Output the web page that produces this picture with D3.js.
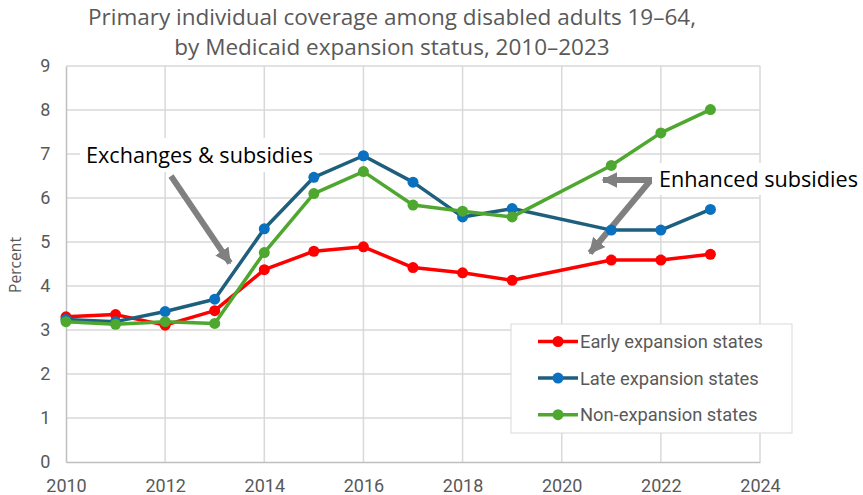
<!DOCTYPE html>
<html>
<head>
<meta charset="utf-8">
<script src="https://cdn.jsdelivr.net/npm/d3@7/dist/d3.min.js"></script>
<style>
  html, body { margin: 0; padding: 0; background: #fff; }
  svg { display: block; }
</style>
</head>
<body>
<svg id="chart" width="863" height="495"></svg>
<script>
// Survey years (no 2020 estimate)
const years = [2010, 2011, 2012, 2013, 2014, 2015, 2016, 2017, 2018, 2019, 2021, 2022, 2023];
const earlyExpansion = [3.30, 3.35, 3.11, 3.44, 4.37, 4.79, 4.89, 4.42, 4.30, 4.13, 4.59, 4.59, 4.72];
const lateExpansion  = [3.24, 3.19, 3.42, 3.70, 5.30, 6.47, 6.96, 6.36, 5.57, 5.76, 5.27, 5.27, 5.74];
const nonExpansion   = [3.19, 3.13, 3.19, 3.15, 4.76, 6.10, 6.60, 5.84, 5.70, 5.57, 6.74, 7.48, 8.01];
const seriesNames = ["Early expansion states", "Late expansion states", "Non-expansion states"];
const xTicks = [2010, 2012, 2014, 2016, 2018, 2020, 2022, 2024];
const yTicks = [0, 1, 2, 3, 4, 5, 6, 7, 8, 9];
const titleLines = ["Primary individual coverage among disabled adults 19\u201364,",
                    "by Medicaid expansion status, 2010\u20132023"];

const series = [
  { name: seriesNames[0], values: earlyExpansion, line: "#FF0000", marker: "#FF0000" },
  { name: seriesNames[1], values: lateExpansion,  line: "#1F5F7E", marker: "#0A70C0" },
  { name: seriesNames[2], values: nonExpansion,   line: "#4EA72E", marker: "#4EA72E" }
];

const svg = d3.select("#chart");
const x = d3.scaleLinear().domain([2010, 2024]).range([66, 760]);
const y = d3.scaleLinear().domain([0, 9]).range([462, 66]);

const grey = "#595959";
const bodyFont = "'Open Sans', 'Noto Sans', sans-serif";
const tickFont = "Roboto, 'Liberation Sans', sans-serif";

// scale a text element's font size so it spans the given width
function fitWidth(sel, width) {
  const node = sel.node();
  const fs = parseFloat(sel.attr("font-size"));
  const w = node.getComputedTextLength();
  if (w > 0) sel.attr("font-size", (fs * width / w).toFixed(2));
  return sel;
}

// gridlines
const grid = svg.append("g");
grid.selectAll("line.h").data(yTicks.slice(1)).join("line")
  .attr("x1", x(2010)).attr("x2", x(2024))
  .attr("y1", d => y(d)).attr("y2", d => y(d))
  .attr("stroke", "#d9d9d9").attr("stroke-width", 1.5);
grid.selectAll("line.v").data(xTicks.slice(1)).join("line")
  .attr("x1", d => x(d)).attr("x2", d => x(d))
  .attr("y1", y(0)).attr("y2", y(9))
  .attr("stroke", "#d9d9d9").attr("stroke-width", 1.5);

// axes
const xAxis = svg.append("g").attr("transform", `translate(0,${y(0)})`)
  .call(d3.axisBottom(x).tickValues(xTicks).tickFormat(d3.format("d")).tickSize(0).tickPadding(17));
const yAxis = svg.append("g").attr("transform", `translate(${x(2010)},0)`)
  .call(d3.axisLeft(y).tickValues(yTicks).tickSize(0).tickPadding(19));
[xAxis, yAxis].forEach(a => {
  a.select(".domain").attr("stroke", "#bfbfbf").attr("stroke-width", 1.5);
  a.selectAll("text").attr("fill", grey).attr("font-family", tickFont).attr("font-size", 18);
});
yAxis.selectAll("text").attr("text-anchor", "middle").attr("dx", "-0.1em");

// axis title
const yTitle = svg.append("text")
  .attr("transform", `translate(21,265) rotate(-90)`)
  .attr("text-anchor", "middle")
  .attr("font-family", bodyFont).attr("font-size", 15).attr("fill", grey)
  .text("Percent");
fitWidth(yTitle, 56);

// chart title
const titleText = svg.selectAll("text.title").data(titleLines).join("text")
  .attr("class", "title")
  .attr("x", 392).attr("y", (d, i) => 25 + i * 30)
  .attr("text-anchor", "middle")
  .attr("font-family", bodyFont).attr("font-size", 20).attr("fill", grey)
  .text(d => d);
fitWidth(d3.select(titleText.nodes()[0]), 608);
titleText.attr("font-size", d3.select(titleText.nodes()[0]).attr("font-size"));

// arrow marker
const defs = svg.append("defs");
defs.append("marker")
  .attr("id", "head").attr("viewBox", "0 0 10 10")
  .attr("refX", 9).attr("refY", 5)
  .attr("markerWidth", 16).attr("markerHeight", 16)
  .attr("markerUnits", "userSpaceOnUse").attr("orient", "auto")
  .append("path").attr("d", "M0,0 L10,5 L0,10 Z").attr("fill", "#808080");

// annotations with white backing
function note(text, cx, cy, width, boxPad) {
  const g = svg.append("g");
  const rect = g.append("rect").attr("fill", "#fff");
  const t = g.append("text").attr("x", cx).attr("y", cy).attr("dy", "0.35em")
    .attr("text-anchor", "middle").attr("font-family", bodyFont)
    .attr("font-size", 19).attr("fill", "#000").text(text);
  fitWidth(t, width);
  rect.attr("x", cx - width / 2 - boxPad[0]).attr("y", cy - boxPad[1])
    .attr("width", width + 2 * boxPad[0]).attr("height", 2 * boxPad[1]);
}
note("Exchanges & subsidies", 199.5, 155, 227, [6, 17]);
note("Enhanced subsidies", 758.5, 179, 199, [5, 16]);

const arrows = [
  [[171, 176], [230, 263]],
  [[652, 180], [603, 180]],
  [[650, 181], [590, 253]]
];
svg.append("g").selectAll("line").data(arrows).join("line")
  .attr("x1", d => d[0][0]).attr("y1", d => d[0][1])
  .attr("x2", d => d[1][0]).attr("y2", d => d[1][1])
  .attr("stroke", "#808080").attr("stroke-width", 6)
  .attr("marker-end", "url(#head)");

// series lines and markers
const line = d3.line().x((d, i) => x(years[i])).y(d => y(d));
series.forEach(s => {
  const g = svg.append("g");
  g.append("path").attr("d", line(s.values))
    .attr("fill", "none").attr("stroke", s.line).attr("stroke-width", 3.5)
    .attr("stroke-linejoin", "round");
  g.selectAll("circle").data(s.values).join("circle")
    .attr("cx", (d, i) => x(years[i])).attr("cy", d => y(d)).attr("r", 5.5)
    .attr("fill", s.marker);
});

// legend
const legend = svg.append("g");
legend.append("rect").attr("x", 511).attr("y", 324).attr("width", 281).attr("height", 109)
  .attr("fill", "#fff").attr("stroke", "#d9d9d9").attr("stroke-width", 1);
const legendText = [];
series.forEach((s, i) => {
  const ly = 341.5 + i * 36.6;
  legend.append("line").attr("x1", 538).attr("x2", 578).attr("y1", ly).attr("y2", ly)
    .attr("stroke", s.line).attr("stroke-width", 3.5);
  legend.append("circle").attr("cx", 558).attr("cy", ly).attr("r", 5.5).attr("fill", s.marker);
  legendText.push(legend.append("text").attr("x", 580).attr("y", ly).attr("dy", "0.35em")
    .attr("font-family", tickFont).attr("font-size", 17).attr("fill", grey).text(s.name));
});
fitWidth(legendText[0], 183);
legendText.forEach(t => t.attr("font-size", legendText[0].attr("font-size")));
</script>
</body>
</html>
